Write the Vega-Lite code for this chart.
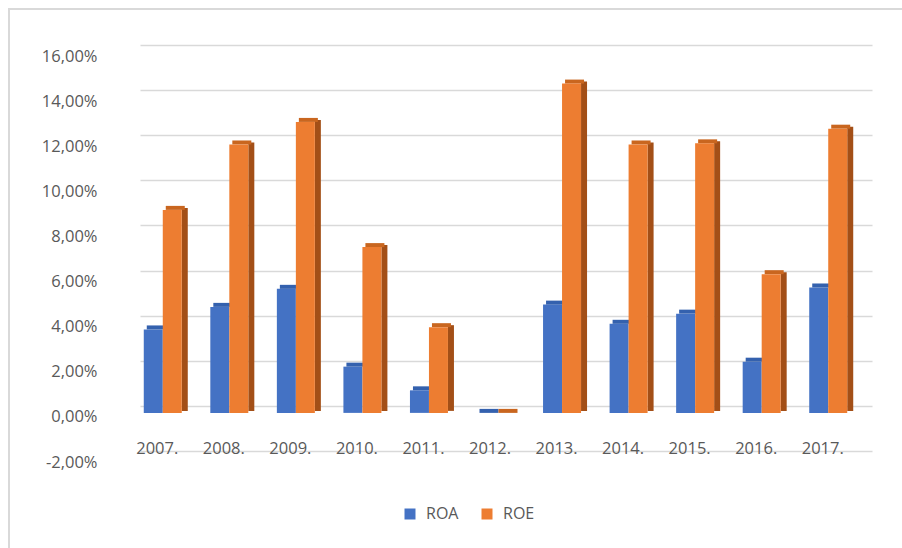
{
  "$schema": "https://vega.github.io/schema/vega-lite/v6.json",
  "autosize": {"type": "none"},
  "padding": {"left": 9, "top": 9, "right": 0, "bottom": 0},
  "width": 893,
  "height": 539,
  "background": "white",
  "config": {
    "locale": {"number": {"decimal": ",", "thousands": ".", "grouping": [3], "currency": ["", " €"], "minus": "-"}},
    "view": {"stroke": "#d9d9d9", "strokeWidth": 2, "strokeDash": [893, 1432, 539, 100]},
    "font": "Open Sans",
    "axis": {"labelFont": "Open Sans", "labelColor": "#595959", "labelFontSize": 16.5, "title": null},
    "legend": {"labelFont": "Open Sans", "labelColor": "#595959", "labelFontSize": 16}
  },
  "data": {
    "values": [
      {"year": "2007.", "series": "ROA", "value": 0.037},
      {"year": "2007.", "series": "ROE", "value": 0.090},
      {"year": "2008.", "series": "ROA", "value": 0.047},
      {"year": "2008.", "series": "ROE", "value": 0.119},
      {"year": "2009.", "series": "ROA", "value": 0.055},
      {"year": "2009.", "series": "ROE", "value": 0.129},
      {"year": "2010.", "series": "ROA", "value": 0.0205},
      {"year": "2010.", "series": "ROE", "value": 0.0735},
      {"year": "2011.", "series": "ROA", "value": 0.010},
      {"year": "2011.", "series": "ROE", "value": 0.038},
      {"year": "2012.", "series": "ROA", "value": 0.0},
      {"year": "2012.", "series": "ROE", "value": 0.0},
      {"year": "2013.", "series": "ROA", "value": 0.048},
      {"year": "2013.", "series": "ROE", "value": 0.146},
      {"year": "2014.", "series": "ROA", "value": 0.0395},
      {"year": "2014.", "series": "ROE", "value": 0.119},
      {"year": "2015.", "series": "ROA", "value": 0.044},
      {"year": "2015.", "series": "ROE", "value": 0.1195},
      {"year": "2016.", "series": "ROA", "value": 0.0227},
      {"year": "2016.", "series": "ROE", "value": 0.0615},
      {"year": "2017.", "series": "ROA", "value": 0.0556},
      {"year": "2017.", "series": "ROE", "value": 0.126}
    ]
  },
  "encoding": {
    "x": {
      "field": "year", "type": "nominal", "sort": null,
      "scale": {"range": [131, 863], "paddingInner": 0, "paddingOuter": 0},
      "axis": {"orient": "bottom", "labelAngle": 0, "domain": false, "ticks": false, "tickSize": 0, "grid": false, "labelPadding": -100, "labelBaseline": "middle", "labelOffset": -16}
    },
    "y": {
      "field": "value", "type": "quantitative",
      "scale": {"domain": [-0.02, 0.16], "range": [442, 36], "nice": false},
      "axis": {"format": ".2%", "values": [-0.02, 0, 0.02, 0.04, 0.06, 0.08, 0.1, 0.12, 0.14, 0.16], "domain": false, "ticks": false, "tickSize": 0, "grid": true, "gridColor": "#d9d9d9", "gridWidth": 1.5, "labelPadding": -88, "labelOffset": 11}
    }
  },
  "layer": [
    {
      "transform": [{"filter": "datum.series === 'ROA'"}],
      "mark": {"type": "bar", "width": 19, "xOffset": -20, "yOffset": 7, "y2Offset": 7},
      "encoding": {
        "color": {
          "field": "series", "type": "nominal",
          "scale": {"domain": ["ROA", "ROE"], "range": ["#4472C4", "#ED7D31"]},
          "legend": {"orient": "none", "direction": "horizontal", "legendX": 393, "legendY": 497, "title": null, "symbolType": "square", "symbolSize": 121, "symbolStrokeWidth": 0, "labelOffset": 8, "columnPadding": 20, "padding": 0}
        }
      }
    },
    {
      "transform": [{"filter": "datum.series === 'ROA'"}],
      "mark": {"type": "bar", "width": 19, "xOffset": -17, "yOffset": 3, "y2Offset": 7, "color": "#3461AE"},
      "encoding": {"y2": {"field": "value"}}
    },
    {
      "transform": [{"filter": "datum.series === 'ROE'"}],
      "mark": {"type": "bar", "width": 6, "xOffset": 11.5, "yOffset": 5, "y2Offset": 5, "color": "#A34F17"}
    },
    {
      "transform": [{"filter": "datum.series === 'ROE'"}],
      "mark": {"type": "bar", "width": 19, "xOffset": 2, "yOffset": 3, "y2Offset": 7, "color": "#C9661F"},
      "encoding": {"y2": {"field": "value"}}
    },
    {
      "transform": [{"filter": "datum.series === 'ROE'"}],
      "mark": {"type": "bar", "width": 19, "xOffset": -1, "yOffset": 7, "y2Offset": 7},
      "encoding": {
        "color": {"field": "series", "type": "nominal"}
      }
    }
  ]
}
